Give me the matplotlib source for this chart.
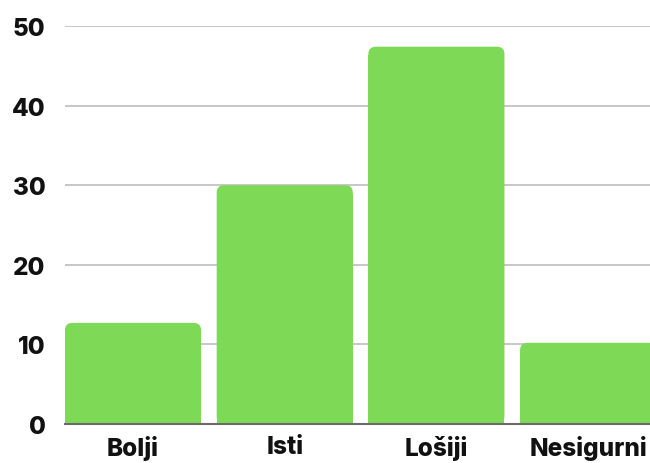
import matplotlib
matplotlib.use("Agg")
import matplotlib.pyplot as plt
from matplotlib.patches import FancyBboxPatch, Rectangle

categories = ["Bolji", "Isti", "Lošiji", "Nesigurni"]
values = [12.7, 30.0, 47.4, 10.2]
yticks = [0, 10, 20, 30, 40, 50]

plt.rcParams['font.family'] = ['Inter', 'DejaVu Sans']

fig = plt.figure(figsize=(6.5, 4.64), dpi=100)
ax = fig.add_axes([0.1, 0.0841, 0.9, 0.8577])

green = "#7ED957"
width = 0.897
x = list(range(len(categories)))
bars = ax.bar(x, values, width=width, color="none", zorder=2)

rx = 0.05
ry = 0.9
for b in bars:
    x0 = b.get_x()
    w = b.get_width()
    h = b.get_height()
    p = FancyBboxPatch((x0, 0), w, h,
                       boxstyle=f"round,pad=0,rounding_size={rx}",
                       mutation_aspect=ry / rx,
                       facecolor=green, edgecolor="none", zorder=3)
    ax.add_patch(p)
    ax.add_patch(Rectangle((x0, 0), w, h - ry * 1.2, facecolor=green,
                           edgecolor="none", zorder=3))

ax.set_xlim(-width / 2, 3.408)
ax.set_ylim(0, 50)
ax.set_yticks(yticks)
ax.set_xticks(x)
ax.set_xticklabels(categories)
ax.yaxis.grid(True, color="#bdbdbd", linewidth=1.2, zorder=0)
ax.set_axisbelow(True)
for s in ["top", "right", "left"]:
    ax.spines[s].set_visible(False)
ax.spines["bottom"].set_color("#6b6b6b")
ax.spines["bottom"].set_linewidth(1.5)
ax.spines["bottom"].set_zorder(4)
ax.tick_params(axis="both", length=0, labelsize=17.5)
ax.tick_params(axis="y", pad=14)
ax.tick_params(axis="x", pad=8)
for lab in ax.get_xticklabels() + ax.get_yticklabels():
    lab.set_fontweight("heavy")
    lab.set_color("#111111")

fig.savefig("out.png", dpi=100)
